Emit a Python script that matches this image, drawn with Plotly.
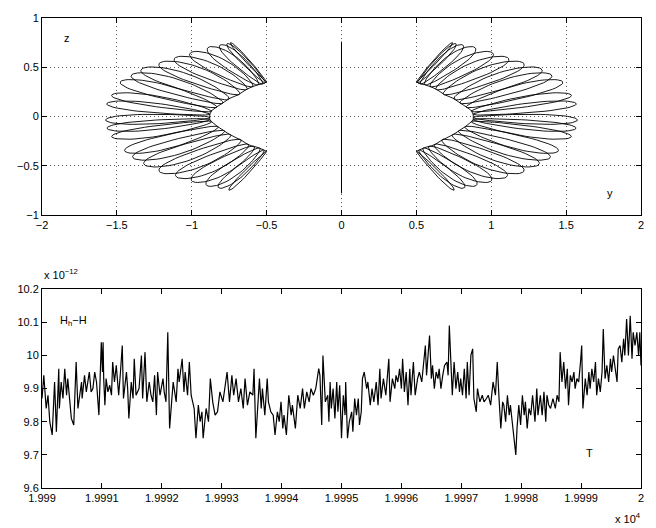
import numpy as np
import plotly.graph_objects as go

# ---------------- top panel: orbit loops in the (y, z) plane (left lobe; right lobe is its mirror) ----
loop_tip_y = [-0.74, -0.76, -0.80, -0.87, -0.98, -1.08, -1.18, -1.30, -1.37, -1.45, -1.52, -1.56,
              -1.575, -1.56, -1.52, -1.42, -1.36, -1.28, -1.18, -1.07, -0.97, -0.88, -0.81, -0.75]
loop_tip_z = [0.75, 0.74, 0.73, 0.71, 0.66, 0.61, 0.56, 0.50, 0.44, 0.37, 0.23, 0.14,
              -0.04, -0.13, -0.22, -0.37, -0.44, -0.51, -0.58, -0.63, -0.67, -0.71, -0.73, -0.75]
loop_base_y = [-0.50, -0.51, -0.53, -0.56, -0.60, -0.64, -0.69, -0.76, -0.80, -0.84, -0.87, -0.88,
               -0.88, -0.88, -0.87, -0.83, -0.79, -0.75, -0.68, -0.63, -0.59, -0.55, -0.52, -0.50]
loop_base_z = [0.35, 0.34, 0.33, 0.32, 0.30, 0.27, 0.22, 0.17, 0.13, 0.09, 0.05, 0.02,
               -0.01, -0.03, -0.05, -0.10, -0.14, -0.18, -0.23, -0.28, -0.30, -0.32, -0.34, -0.35]
loop_halfwidth = [0.010, 0.018, 0.03, 0.044, 0.056, 0.064, 0.07, 0.074, 0.072, 0.068, 0.06, 0.056,
                  0.056, 0.056, 0.06, 0.068, 0.072, 0.074, 0.07, 0.064, 0.056, 0.044, 0.03, 0.012]
axis_line_y = [0.0, 0.0]
axis_line_z = [0.76, -0.78]

# ---------------- bottom panel: H_h - H (units of 1e-12) versus T ----------------
t_offset = [0.00, 0.03, 0.07, 0.10, 0.13, 0.17, 0.21, 0.24, 0.28, 0.29, 0.32, 0.35, 0.38, 0.41, 0.43,
            0.49, 0.53, 0.57, 0.60, 0.66, 0.67, 0.71, 0.74, 0.77, 0.79, 0.82, 0.85, 0.88, 0.91, 0.95,
            0.99, 1.01, 1.02, 1.03, 1.05, 1.07, 1.10, 1.13, 1.16, 1.18, 1.21, 1.24, 1.28, 1.31, 1.34,
            1.36, 1.41, 1.43, 1.45, 1.49, 1.52, 1.54, 1.57, 1.62, 1.66, 1.68, 1.72, 1.75, 1.79, 1.82,
            1.85, 1.88, 1.91, 1.93, 1.97, 2.02, 2.04, 2.07, 2.10, 2.13, 2.17, 2.19, 2.24, 2.27, 2.29,
            2.34, 2.37, 2.39, 2.43, 2.46, 2.49, 2.52, 2.54, 2.57, 2.61, 2.64, 2.67, 2.69, 2.74, 2.78,
            2.81, 2.85, 2.89, 2.93, 2.97, 3.02, 3.06, 3.09, 3.13, 3.17, 3.20, 3.24, 3.28, 3.32, 3.36,
            3.39, 3.43, 3.47, 3.52, 3.54, 3.57, 3.60, 3.63, 3.66, 3.68, 3.72, 3.76, 3.78, 3.82, 3.86,
            3.89, 3.93, 3.96, 3.99, 4.02, 4.04, 4.08, 4.12, 4.16, 4.18, 4.23, 4.27, 4.31, 4.35, 4.38,
            4.42, 4.46, 4.49, 4.53, 4.57, 4.62, 4.64, 4.67, 4.69, 4.73, 4.77, 4.79,
            4.81, 4.83, 4.86, 4.89, 4.92, 4.94, 4.97, 5.00, 5.03, 5.06, 5.07, 5.10, 5.13, 5.17, 5.19,
            5.22, 5.25, 5.28, 5.30, 5.33, 5.35, 5.38, 5.42, 5.44, 5.48, 5.51, 5.54, 5.58, 5.61, 5.64,
            5.66, 5.70, 5.74, 5.76, 5.79, 5.81, 5.85, 5.89, 5.91, 5.94, 5.97, 6.00, 6.02, 6.05, 6.08,
            6.11, 6.14, 6.16, 6.20, 6.23, 6.27, 6.30, 6.34, 6.40, 6.42, 6.47, 6.50, 6.52, 6.55, 6.58,
            6.61, 6.63, 6.66, 6.69, 6.72, 6.76, 6.78, 6.80, 6.83, 6.85, 6.88, 6.91, 6.94, 6.97, 6.99,
            7.02, 7.05, 7.08, 7.10, 7.13, 7.16, 7.19, 7.21, 7.25, 7.27, 7.31, 7.35, 7.38, 7.42, 7.45,
            7.49, 7.53, 7.57, 7.60, 7.63, 7.66, 7.69, 7.71, 7.74, 7.77, 7.80, 7.82, 7.85, 7.89, 7.91,
            7.93, 7.96, 7.99, 8.02, 8.05, 8.07, 8.10, 8.13, 8.16, 8.19, 8.23, 8.26, 8.28, 8.32, 8.35,
            8.38, 8.41, 8.43, 8.46, 8.49, 8.53, 8.57, 8.60, 8.63, 8.65, 8.68, 8.71, 8.74, 8.77, 8.79,
            8.82, 8.85, 8.88, 8.90, 8.93, 8.96, 8.99, 9.01, 9.03, 9.07, 9.10, 9.13, 9.15, 9.18, 9.21,
            9.24, 9.26, 9.29, 9.32, 9.35, 9.37, 9.40, 9.43, 9.46, 9.49, 9.51, 9.54, 9.57, 9.60, 9.62,
            9.65, 9.68, 9.71, 9.73, 9.76, 9.79, 9.82, 9.85, 9.87, 9.90, 9.93, 9.96, 9.98, 10.00]
h_diff = [9.87, 9.94, 9.84, 9.88, 9.80, 9.76, 9.92, 9.77, 9.96, 9.84, 9.92, 9.87, 9.96, 9.88, 9.93,
          9.81, 9.79, 9.98, 9.84, 9.92, 9.87, 9.94, 9.89, 9.93, 9.95, 9.89, 9.90, 9.95, 9.92, 9.82,
          10.04, 9.95, 10.04, 9.93, 9.85, 9.93, 9.89, 9.91, 9.88, 9.98, 9.92, 9.97, 9.88, 9.95, 10.03,
          9.87, 9.95, 9.90, 9.81, 9.92, 9.87, 9.99, 9.88, 9.90, 10.00, 9.87, 10.01, 9.86, 9.92, 9.88,
          9.86, 9.94, 9.82, 9.95, 9.88, 9.93, 9.89, 9.86, 10.07, 9.78, 9.87, 9.92, 9.86, 9.96, 9.92,
          9.99, 9.89, 9.95, 9.88, 9.98, 9.88, 9.85, 9.84, 9.75, 9.85, 9.80, 9.83, 9.75, 9.84, 9.80,
          9.93, 9.86, 9.82, 9.83, 9.89, 9.86, 9.91, 9.95, 9.86, 9.94, 9.88, 9.93, 9.86, 9.90, 9.84,
          9.93, 9.85, 9.89, 9.88, 9.96, 9.75, 9.86, 9.93, 9.84, 9.90, 9.82, 9.93, 9.86, 9.83, 9.82,
          9.76, 9.83, 9.80, 9.86, 9.78, 9.82, 9.76, 9.88, 9.82, 9.85, 9.78, 9.88, 9.84, 9.90, 9.84,
          9.89, 9.86, 9.90, 9.88, 9.90, 9.96, 9.94, 9.79, 10.00, 9.86, 9.88, 9.80,
          9.92, 9.84, 9.90, 9.81, 9.92, 9.83, 9.91, 9.75, 9.88, 9.82, 9.92, 9.75, 9.80, 9.83, 9.77,
          9.87, 9.82, 9.87, 9.79, 9.83, 9.93, 9.95, 9.90, 9.92, 9.85, 9.90, 9.86, 9.92, 9.85, 9.96,
          9.87, 9.93, 9.88, 9.92, 9.99, 9.86, 9.93, 9.90, 9.94, 9.92, 9.96, 9.90, 9.99, 9.89, 9.95,
          9.85, 9.96, 9.88, 9.98, 9.88, 9.93, 9.95, 9.92, 10.03, 9.94, 10.06, 9.93, 9.97, 9.90, 9.95,
          9.93, 9.96, 9.90, 9.94, 9.97, 9.98, 9.94, 10.09, 9.94, 9.88, 9.98, 9.90, 9.95, 9.89, 9.93,
          9.88, 9.96, 9.87, 9.98, 9.88, 10.00, 10.02, 9.87, 9.83, 9.90, 9.86, 9.88, 9.86, 9.87, 9.88,
          9.85, 9.92, 9.88, 9.98, 9.87, 9.78, 9.86, 9.85, 9.80, 9.88, 9.82, 9.85, 9.80, 9.72, 9.70,
          9.78, 9.85, 9.79, 9.88, 9.82, 9.86, 9.78, 9.84, 9.82, 9.88, 9.80, 9.90, 9.82, 9.88, 9.82,
          9.89, 9.80, 9.88, 9.85, 9.84, 9.87, 9.84, 9.88, 9.86, 10.01, 9.92, 9.98, 9.90, 9.96, 9.85,
          9.94, 9.92, 9.95, 9.90, 9.93, 9.92, 9.98, 10.03, 9.84, 9.93, 9.88, 9.95, 9.90, 9.96, 9.92,
          9.98, 9.88, 9.93, 9.89, 9.95, 10.08, 9.93, 9.97, 9.92, 9.99, 9.95, 10.00, 9.96, 9.92, 10.02,
          10.03, 9.98, 10.05, 10.00, 10.11, 10.00, 10.12, 9.99, 10.07, 10.03, 10.07, 10.00, 10.07, 9.97]
t_start = 19990.0
t_tickvals = [19990, 19991, 19992, 19993, 19994, 19995, 19996, 19997, 19998, 19999, 20000]
t_ticktext = ['1.999', '1.9991', '1.9992', '1.9993', '1.9994', '1.9995', '1.9996', '1.9997',
              '1.9998', '1.9999', '2']
h_tickvals = [9.6, 9.7, 9.8, 9.9, 10.0, 10.1, 10.2]
h_ticktext = ['9.6', '9.7', '9.8', '9.9', '10', '10.1', '10.2']
yz_tickvals = [-2, -1.5, -1, -0.5, 0, 0.5, 1, 1.5, 2]
yz_ticktext = ['\u22122', '\u22121.5', '\u22121', '\u22120.5', '0', '0.5', '1', '1.5', '2']
z_tickvals = [-1, -0.5, 0, 0.5, 1]
z_ticktext = ['\u22121', '\u22120.5', '0', '0.5', '1']


def loop_path(sign):
    """Join thin loops (base -> tip -> base) described by the arrays above."""
    ys, zs = [], []
    s = np.linspace(0, 2 * np.pi, 60)
    for ty, tz, by, bz, hw in zip(loop_tip_y, loop_tip_z, loop_base_y, loop_base_z, loop_halfwidth):
        dy, dz = ty - by, tz - bz
        # normal in a display-balanced frame (y spans 4 units, z spans 2 units)
        ny, nz = -dz * 2.0, dy / 2.0
        nn = np.hypot(ny, nz)
        ny, nz = ny / nn * 2.0, nz / nn
        along = (1 - np.cos(s)) / 2
        across = hw * np.sin(s) * (0.55 + 0.6 * along)
        ys.extend(by + along * dy + across * ny)
        zs.extend(bz + along * dz + across * nz)
    ys = np.array(ys) * sign
    return ys, np.array(zs)


FONT = dict(family="Liberation Sans, Arial, Helvetica, sans-serif", size=11, color="black")
fig = go.Figure()

for sgn in (1, -1):
    ly, lz = loop_path(sgn)
    fig.add_trace(go.Scatter(x=ly, y=lz, mode="lines", line=dict(color="black", width=0.9),
                             xaxis="x", yaxis="y", showlegend=False, hoverinfo="skip"))
fig.add_trace(go.Scatter(x=axis_line_y, y=axis_line_z, mode="lines",
                         line=dict(color="black", width=1), xaxis="x", yaxis="y", showlegend=False))

t_vals = [t_start + o for o in t_offset]
fig.add_trace(go.Scatter(x=t_vals, y=h_diff, mode="lines", line=dict(color="black", width=1.2),
                         xaxis="x2", yaxis="y2", showlegend=False))

axis_common = dict(showline=True, linecolor="black", linewidth=1, mirror="ticks",
                   ticks="inside", ticklen=5, tickcolor="black", tickwidth=1,
                   zeroline=False, tickfont=FONT)
grid = dict(showgrid=True, gridcolor="#555", griddash="1px,3px", gridwidth=1)

fig.update_layout(
    width=656, height=528,
    margin=dict(l=42, r=12, t=13, b=40),
    paper_bgcolor="white", plot_bgcolor="white",
    font=FONT,
    xaxis=dict(axis_common, **grid, domain=[0, 1], range=[-2, 2], tickvals=yz_tickvals,
               ticktext=yz_ticktext, anchor="y"),
    yaxis=dict(axis_common, **grid, domain=[0.581, 1.0], range=[-1, 1], tickvals=z_tickvals,
               ticktext=z_ticktext, anchor="x"),
    xaxis2=dict(axis_common, domain=[0, 1], range=[19990, 20000], tickvals=t_tickvals,
                ticktext=t_ticktext, showgrid=False, anchor="y2"),
    yaxis2=dict(axis_common, domain=[0, 0.423], range=[9.6, 10.2], tickvals=h_tickvals,
                ticktext=h_ticktext, showgrid=False, anchor="x2"),
    annotations=[
        dict(text="z", x=-1.83, y=0.8, xref="x", yref="y", showarrow=False, font=FONT),
        dict(text="y", x=1.79, y=-0.78, xref="x", yref="y", showarrow=False, font=FONT),
        dict(text="H<sub>h</sub>\u2212H", x=19990.52, y=10.105, xref="x2", yref="y2",
             showarrow=False, font=FONT),
        dict(text="T", x=19999.14, y=9.707, xref="x2", yref="y2", showarrow=False, font=FONT),
        dict(text="x 10<sup>\u221212</sup>", x=0.0, y=0.455, xref="paper", yref="paper",
             xanchor="left", yanchor="middle", showarrow=False, font=FONT),
        dict(text="x 10<sup>4</sup>", x=1.003, y=-0.063, xref="paper", yref="paper",
             xanchor="right", yanchor="middle", showarrow=False, font=FONT),
    ],
)

fig.write_html("out.html")
